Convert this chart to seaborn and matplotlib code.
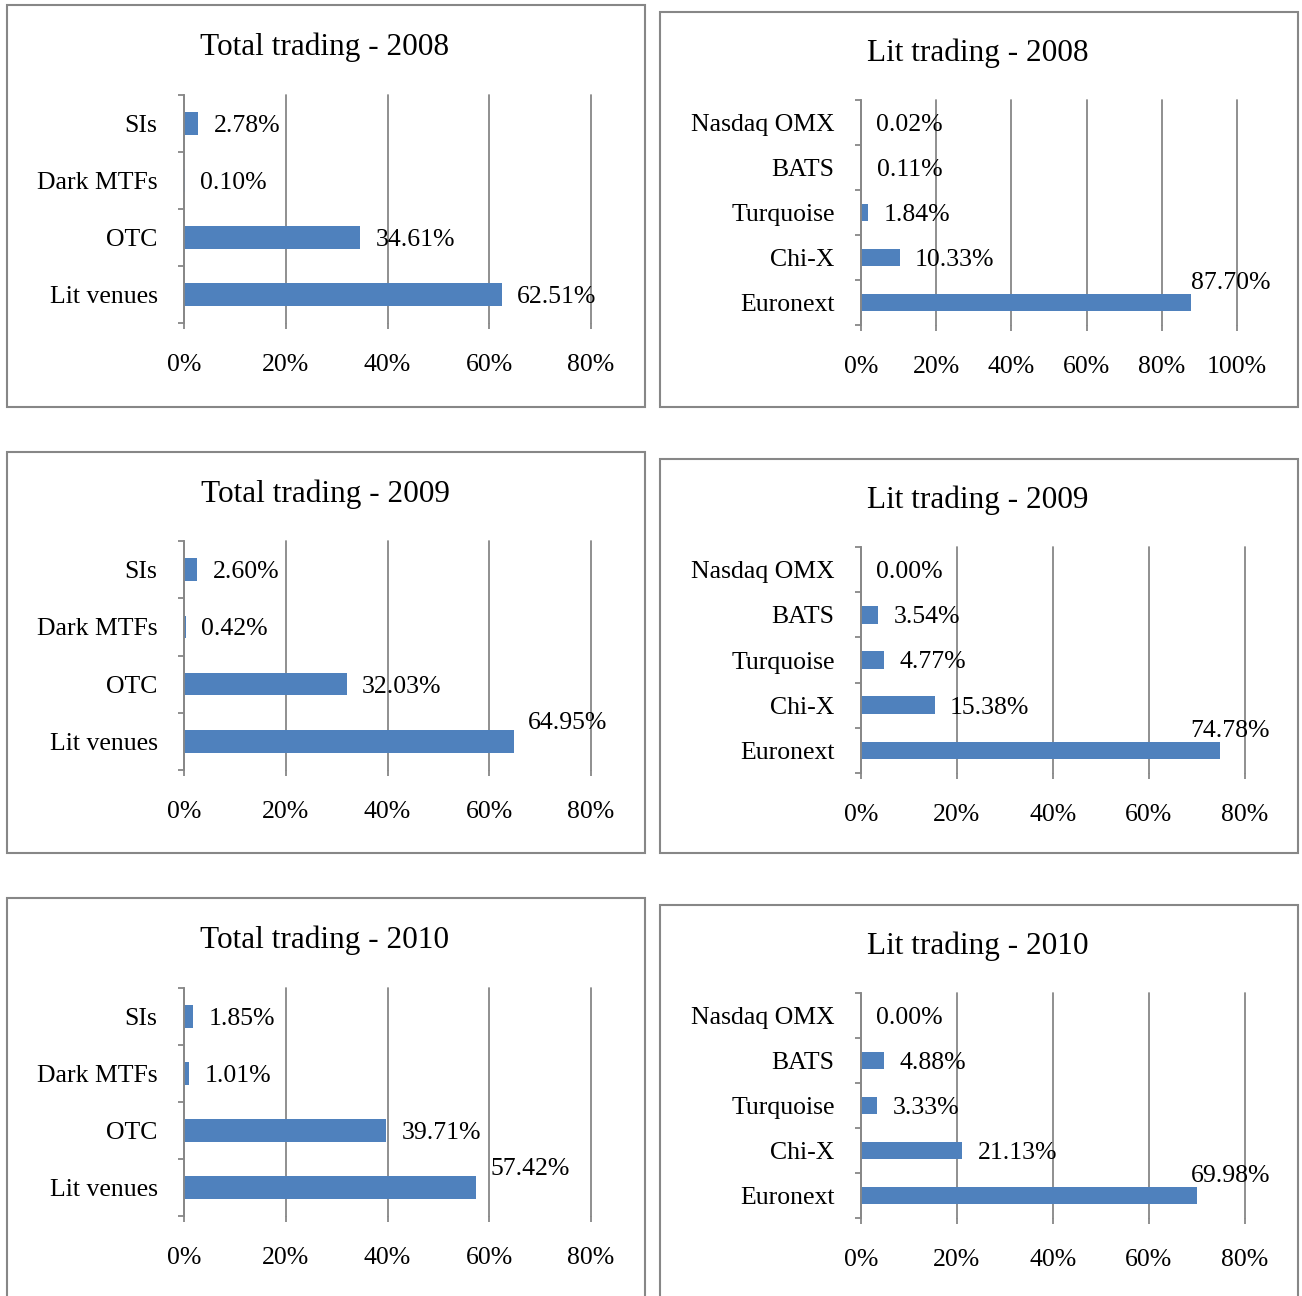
import numpy as np
import matplotlib
matplotlib.use('Agg')
import matplotlib.pyplot as plt
from matplotlib.patches import Rectangle
import matplotlib.transforms as mtransforms
import seaborn as sns

# data
total_cats = ['SIs', 'Dark MTFs', 'OTC', 'Lit venues']
total_2008 = [2.78, 0.10, 34.61, 62.51]
total_2009 = [2.60, 0.42, 32.03, 64.95]
total_2010 = [1.85, 1.01, 39.71, 57.42]

lit_cats = ['Nasdaq OMX', 'BATS', 'Turquoise', 'Chi-X', 'Euronext']
lit_2008 = [0.02, 0.11, 1.84, 10.33, 87.70]
lit_2009 = [0.00, 3.54, 4.77, 15.38, 74.78]
lit_2010 = [0.00, 4.88, 3.33, 21.13, 69.98]

sns.set_theme(style='white')
plt.rcParams['font.family'] = ['Liberation Serif', 'DejaVu Serif']
plt.rcParams['text.color'] = 'black'
plt.rcParams['xtick.color'] = 'black'
plt.rcParams['ytick.color'] = 'black'

W, H = 1302, 1296
BAR = '#4F81BD'
GRAY = '#878787'
FS = 18.5

fig = plt.figure(figsize=(W / 100, H / 100), dpi=100)


def px_rect(x0, y0, x1, y1):
    return [x0 / W, 1 - y1 / H, (x1 - x0) / W, (y1 - y0) / H]


# panel frames
frames = [(7, 5, 645, 407), (660, 12, 1298, 407),
          (7, 452, 645, 853), (660, 459, 1298, 853),
          (7, 898, 645, 1310), (660, 905, 1298, 1310)]
for x0, y0, x1, y1 in frames:
    fig.patches.append(Rectangle((x0 / W, 1 - y1 / H), (x1 - x0) / W, (y1 - y0) / H,
                                 transform=fig.transFigure, fill=False,
                                 edgecolor=GRAY, lw=1.5))

panels = [
    # title, cats, values, xmax, axes px rect, title px, label-above mode
    ('Total trading - 2008', total_cats, total_2008, 80, (184, 95, 591, 323), (325, 47), None),
    ('Lit trading - 2008', lit_cats, lit_2008, 100, (861, 100, 1237, 325), (978, 53), 'right'),
    ('Total trading - 2009', total_cats, total_2009, 80, (184, 541, 591, 770), (325, 494), 'left'),
    ('Lit trading - 2009', lit_cats, lit_2009, 80, (861, 547, 1245, 773), (978, 500), 'right'),
    ('Total trading - 2010', total_cats, total_2010, 80, (184, 988, 591, 1216), (325, 940), 'left'),
    ('Lit trading - 2010', lit_cats, lit_2010, 80, (861, 993, 1245, 1218), (978, 946), 'right'),
]

for title, cats, vals, xmax, rect, tpos, above in panels:
    ax = fig.add_axes(px_rect(*rect))
    sns.barplot(x=vals, y=cats, orient='h', color=BAR, width=0.39,
                linewidth=0, saturation=1, ax=ax)
    n = len(cats)
    ax.set_xlim(0, xmax)
    ax.set_ylim(n - 0.5, -0.5)
    ticks = np.arange(0, xmax + 1, 20)
    ax.set_xticks(ticks)
    ax.set_xticklabels([f'{int(t)}%' for t in ticks], fontsize=FS)
    ax.set_yticks(range(n))
    ax.set_yticklabels(cats, fontsize=FS, va='center_baseline')
    ax.set_yticks(np.arange(-0.5, n), minor=True)
    ax.set_xlabel('')
    ax.set_ylabel('')
    ax.set_axisbelow(True)
    ax.xaxis.grid(True, color=GRAY, lw=1.3)
    ax.yaxis.grid(False)
    for gl in ax.get_xgridlines():
        gl.set_clip_on(False)
    for s in ['top', 'right', 'bottom']:
        ax.spines[s].set_visible(False)
    ax.spines['left'].set_color(GRAY)
    ax.spines['left'].set_linewidth(1.3)
    ax.tick_params(axis='x', bottom=True, length=4, width=1.3, color=GRAY,
                   labelcolor='black', direction='out', pad=18)
    ax.tick_params(axis='y', which='major', left=True, length=0, pad=19, labelcolor='black')
    ax.tick_params(axis='y', which='minor', left=True, length=4.5, width=1.3,
                   color=GRAY, direction='out')
    ax.set_facecolor('white')

    imax = int(np.argmax(vals))
    for i, v in enumerate(vals):
        lab = f'{v:.2f}%'
        if above is not None and i == imax:
            if above == 'left':
                ax.annotate(lab, xy=(v, i), xytext=(10, 15), textcoords='offset points',
                            ha='left', va='center_baseline', fontsize=FS,
                            annotation_clip=False)
            else:
                tr = mtransforms.blended_transform_factory(fig.transFigure, ax.transData)
                ax.annotate(lab, xy=(1270 / W, i), xycoords=tr, xytext=(0, 16),
                            textcoords='offset points', ha='right', va='center_baseline',
                            fontsize=FS, annotation_clip=False)
        else:
            ax.annotate(lab, xy=(v, i), xytext=(11, 0), textcoords='offset points',
                        ha='left', va='center_baseline', fontsize=FS, annotation_clip=False)

    fig.text(tpos[0] / W, 1 - tpos[1] / H, title, ha='center', va='center', fontsize=22.5)

fig.savefig('out.png', dpi=100, facecolor='white')
